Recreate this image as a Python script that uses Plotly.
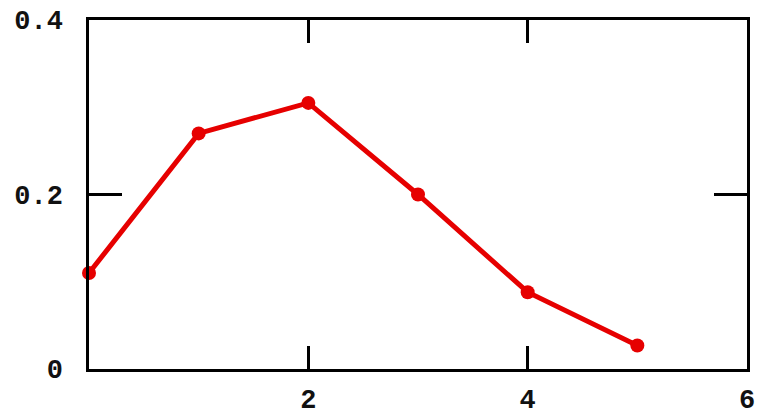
import plotly.graph_objects as go

# Series values
x_vals = [0, 1, 2, 3, 4, 5]
y_vals = [0.11, 0.27, 0.305, 0.20, 0.088, 0.027]

# Tick labels
x_tickvals = [2, 4, 6]
x_ticktext = ["2", "4", "6"]
y_tickvals = [0, 0.2, 0.4]
y_ticktext = ["0", "0.2", "0.4"]

fig = go.Figure()
fig.add_trace(go.Scatter(
    x=x_vals, y=y_vals, mode="lines+markers",
    line=dict(color="#e60000", width=5),
    marker=dict(color="#e60000", size=14),
    cliponaxis=False,
))

tick_font = dict(family="Liberation Mono", size=27, color="#111111", weight="bold")

fig.update_layout(
    width=767, height=414,
    margin=dict(l=89, r=20, t=20, b=45, autoexpand=False),
    paper_bgcolor="white", plot_bgcolor="white",
    showlegend=False,
)
fig.update_xaxes(
    range=[0, 6], tickvals=x_tickvals, ticktext=x_ticktext,
    ticks="inside", ticklen=23, tickwidth=2.5, tickcolor="black",
    showline=True, linecolor="black", linewidth=2.5, mirror="ticks",
    showgrid=False, zeroline=False, ticklabelstandoff=4,
    automargin=False, tickfont=tick_font,
)
fig.update_yaxes(
    range=[0, 0.4], tickvals=y_tickvals, ticktext=y_ticktext,
    ticks="inside", ticklen=33, tickwidth=2.5, tickcolor="black",
    showline=True, linecolor="black", linewidth=2.5, mirror="ticks",
    showgrid=False, zeroline=False, ticklabelstandoff=18,
    automargin=False, tickfont=tick_font,
)

fig.write_html("out.html")
